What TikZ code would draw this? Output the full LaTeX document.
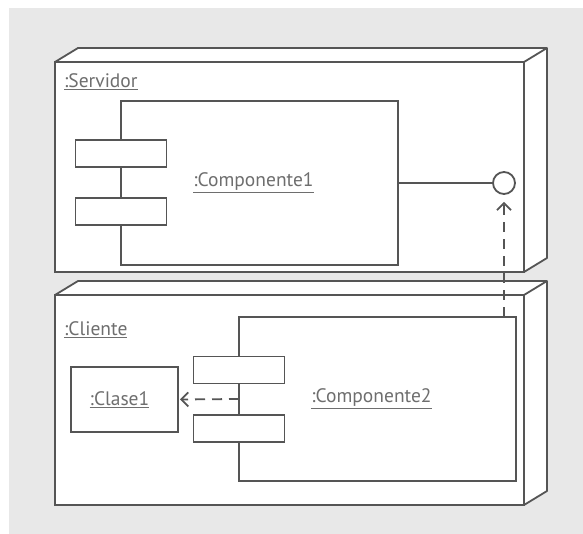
\documentclass[tikz,border=0pt]{standalone}
\usepackage{fontspec}
\setmainfont{PT Sans}
\usetikzlibrary{arrows.meta}
\definecolor{bggray}{HTML}{E8E8E8}
\definecolor{linegray}{HTML}{555555}
\definecolor{textgray}{HTML}{6E6E6E}
\tikzset{
  edge/.style={draw=linegray, line width=1.8pt},
  nodebox/.style={edge, fill=white, rectangle, inner sep=0pt, outer sep=0pt,
    minimum width=469pt, minimum height=210pt},
  compbox/.style={edge, fill=white, rectangle, inner sep=0pt, outer sep=0pt,
    minimum width=277pt, minimum height=164pt},
  portbox/.style={edge, fill=white, rectangle, inner sep=0pt, outer sep=0pt,
    minimum width=91pt, minimum height=27pt},
  classbox/.style={edge, fill=white, rectangle, inner sep=0pt, outer sep=0pt,
    minimum width=107pt, minimum height=65pt},
  iface/.style={edge, fill=white, circle, inner sep=0pt, minimum size=22pt},
  lbl/.style={inner sep=0pt, text=textgray, font=\fontsize{19.5}{21}\selectfont},
  dep/.style={edge, dash pattern=on 10pt off 7pt, -{Straight Barb[length=7pt,width=14pt,line width=1.8pt]}}
}
\begin{document}
\begin{tikzpicture}[x=1pt, y=-1pt]
      \useasboundingbox (0,0) rectangle (583,534);
      \fill[bggray] (9,8) rectangle (583,534);
      \node[nodebox] (servidor) at (289.5,167) {};
      \filldraw[edge, fill=white, line join=round] (servidor.north west) -- ++(23,-14) -- ++(469,0)
        -- ++(0,210) -- (servidor.south east) -- (servidor.north east) -- cycle;
      \draw[edge] (servidor.north east) -- ++(23,-14);
      \node[lbl, anchor=west] (servidorlbl) at ([xshift=9pt, yshift=-20pt]servidor.north west) {\underline{:Servidor}};
      \node[compbox] (comp1) at (259.5,183) {};
      \node[portbox] (comp1port1) at ([yshift=-52.5pt]comp1.north west) {};
      \node[portbox] (comp1port2) at ([yshift=-110.5pt]comp1.north west) {};
      \node[lbl] (comp1lbl) at ([xshift=-6pt]comp1.center) {\underline{:Componente1}};
      \node[iface] (iface) at (504,183) {};
      \draw[edge] (comp1.east) -- (iface.west);
      \node[nodebox] (cliente) at (289.5,400) {};
      \filldraw[edge, fill=white, line join=round] (cliente.north west) -- ++(23,-14) -- ++(469,0)
        -- ++(0,210) -- (cliente.south east) -- (cliente.north east) -- cycle;
      \draw[edge] (cliente.north east) -- ++(23,-14);
      \node[lbl, anchor=west] (clientelbl) at ([xshift=9pt, yshift=-35pt]cliente.north west) {\underline{:Cliente}};
      \node[compbox] (comp2) at (377.5,399) {};
      \node[portbox] (comp2port1) at ([yshift=-53pt]comp2.north west) {};
      \node[portbox] (comp2port2) at ([yshift=-111.5pt]comp2.north west) {};
      \node[lbl] (comp2lbl) at ([xshift=-6pt]comp2.center) {\underline{:Componente2}};
      \node[classbox] (clase1) at (124.5,399.5) {};
      \node[lbl] (clase1lbl) at ([xshift=-5pt]clase1.center) {\underline{:Clase1}};
      \draw[dep, shorten >=2pt] (comp2.west) -- (clase1.east);
      \draw[dep, shorten >=7pt] (comp2.north -| iface.south) -- (iface.south);
    \end{tikzpicture}
\end{document}
